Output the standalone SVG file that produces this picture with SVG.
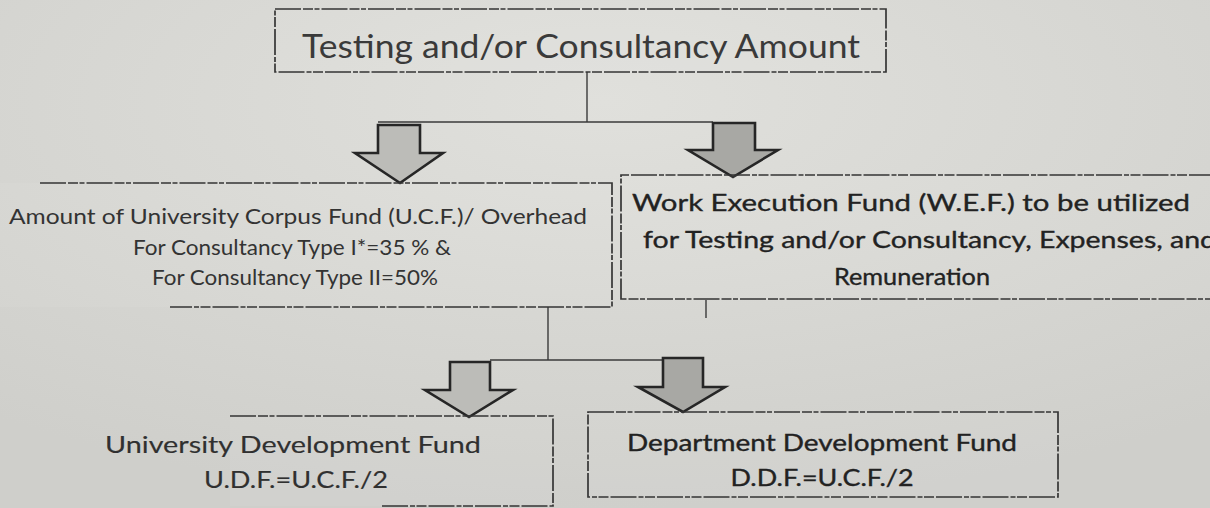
<svg xmlns="http://www.w3.org/2000/svg" width="1210" height="508" viewBox="0 0 1210 508">
<style>
  .bg{fill:url(#paper)}
  .box{fill:#ffffff;fill-opacity:0.06;stroke:none}
  .edge{fill:none;stroke:#353535;stroke-width:1.7;stroke-dasharray:26 2 10 1.5 5 2}
  .conn{fill:none;stroke:#3a3a3a;stroke-width:1.4}
  .arrow{stroke:#262626;stroke-width:2.6;stroke-linejoin:miter}
  .a1{fill:#bcbcb8}
  .a2{fill:#a8a8a4}
  text{font-family:Lato,"Open Sans","Liberation Sans",sans-serif;fill:#2c2c2c}
  .t0{font-size:32px;fill:#3a3a3a}
  .t1{font-size:21px;fill:#333}
  .t2{font-size:24px;fill:#222;stroke:#222;stroke-width:0.35}
  .t3{font-size:23px;fill:#303030;stroke:#303030;stroke-width:0.15}
  .t4{font-size:23px;fill:#222;stroke:#222;stroke-width:0.35}
</style>
<defs>
  <radialGradient id="paper" cx="0.5" cy="0.2" r="0.8">
    <stop offset="0" stop-color="#e0e0dc"/>
    <stop offset="1" stop-color="#cfcfcb"/>
  </radialGradient>
</defs>
<rect class="bg" x="0" y="0" width="1210" height="508"/>

<g id="connectors">
  <line class="conn" x1="587" y1="72" x2="587" y2="122"/>
  <line class="conn" x1="378" y1="122" x2="713" y2="122"/>
  <line class="conn" x1="548" y1="307" x2="548" y2="360"/>
  <line class="conn" x1="490" y1="360" x2="663" y2="360"/>
  <line class="conn" x1="706" y1="300" x2="706" y2="318"/>
  <path class="arrow a1" d="M378 125 H420 V153 H443 L400 183 L355 153 H378 Z"/>
  <path class="arrow a2" d="M713 123 H755 V150 H778 L733 177 L688 150 H713 Z"/>
  <path class="arrow a1" d="M450 362 H490 V390 H513 L469 417 L425 390 H450 Z"/>
  <path class="arrow a2" d="M663 358 H703 V387 H725 L683 412 L638 387 H663 Z"/>
</g>

<g id="node-top">
  <rect class="box" x="275" y="9" width="611" height="63"/>
  <rect class="edge" x="275" y="9" width="611" height="63"/>
  <text class="t0" x="302" y="58" textLength="558" lengthAdjust="spacingAndGlyphs">Testing and/or Consultancy Amount</text>
</g>

<g id="node-ucf">
  <rect class="box" x="0" y="183" width="612" height="124"/>
  <path class="edge" d="M40 183 H612 V307 H170"/>
  <text class="t1" x="298" y="224" text-anchor="middle" textLength="578" lengthAdjust="spacingAndGlyphs">Amount of University Corpus Fund (U.C.F.)/ Overhead</text>
  <text class="t1" x="292" y="255" text-anchor="middle" textLength="318" lengthAdjust="spacingAndGlyphs">For Consultancy Type I*=35 % &amp;</text>
  <text class="t1" x="295" y="285" text-anchor="middle" textLength="286" lengthAdjust="spacingAndGlyphs">For Consultancy Type II=50%</text>
</g>

<g id="node-wef">
  <rect class="box" x="621" y="175" width="600" height="124"/>
  <path class="edge" d="M1215 175 H621 V299 H1215"/>
  <text class="t2" x="632" y="211" textLength="558" lengthAdjust="spacingAndGlyphs">Work Execution Fund (W.E.F.) to be utilized</text>
  <text class="t2" x="643" y="248" textLength="573" lengthAdjust="spacingAndGlyphs">for Testing and/or Consultancy, Expenses, and</text>
  <text class="t2" x="912" y="285" text-anchor="middle" textLength="156" lengthAdjust="spacingAndGlyphs">Remuneration</text>
</g>

<g id="node-udf">
  <rect class="box" x="230" y="416" width="323" height="90"/>
  <path class="edge" d="M230 416 H553 V506 H380"/>
  <text class="t3" x="293" y="453" text-anchor="middle" textLength="376" lengthAdjust="spacingAndGlyphs">University Development Fund</text>
  <text class="t3" x="296" y="488" text-anchor="middle" textLength="184" lengthAdjust="spacingAndGlyphs">U.D.F.=U.C.F./2</text>
</g>

<g id="node-ddf">
  <rect class="box" x="588" y="412" width="470" height="85"/>
  <rect class="edge" x="588" y="412" width="470" height="85"/>
  <text class="t4" x="822" y="451" text-anchor="middle" textLength="390" lengthAdjust="spacingAndGlyphs">Department Development Fund</text>
  <text class="t4" x="822" y="486" text-anchor="middle" textLength="183" lengthAdjust="spacingAndGlyphs">D.D.F.=U.C.F./2</text>
</g>
</svg>
